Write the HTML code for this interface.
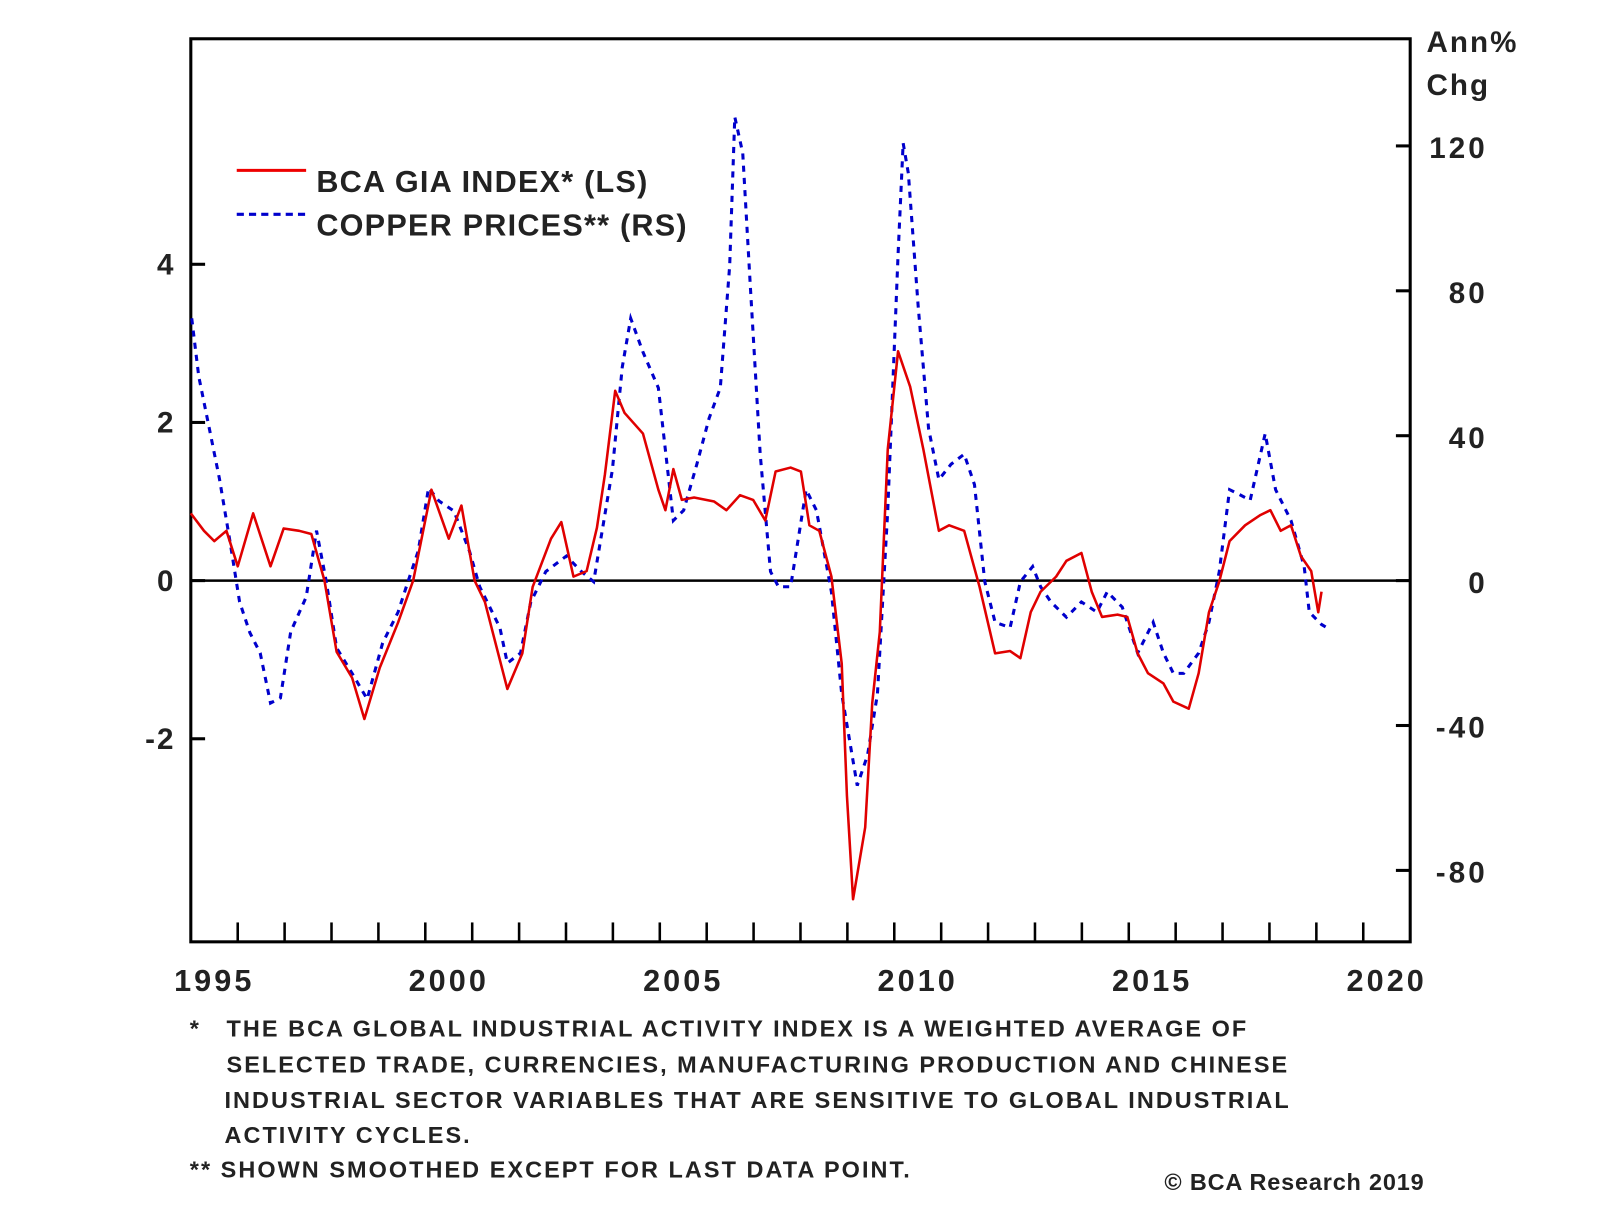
<!DOCTYPE html>
<html><head><meta charset="utf-8"><style>
html,body{margin:0;padding:0;background:#fff;}
svg text{font-family:"Liberation Sans",Arial,sans-serif;font-weight:bold;}
</style></head><body>
<svg id="chart" width="1600" height="1214" viewBox="0 0 1600 1214" xmlns="http://www.w3.org/2000/svg">
<rect x="0" y="0" width="1600" height="1214" fill="#fff"/>
<g transform="scale(1.0204)">
<g id="axes"></g>
<g id="series"></g>
<g>
  <line x1="232" y1="167" x2="300" y2="167" stroke="#e00" stroke-width="3"/>
  <text x="310" y="188" font-size="30" letter-spacing="1.2" fill="#222">BCA GIA INDEX* (LS)</text>
  <line x1="232" y1="210" x2="300" y2="210" stroke="#00c" stroke-width="3" stroke-dasharray="7,5"/>
  <text x="310" y="231" font-size="30" letter-spacing="1.2" fill="#222">COPPER PRICES** (RS)</text>
</g>
<text x="1398" y="51" font-size="29" letter-spacing="2" fill="#222">Ann%</text>
<text x="1398" y="93" font-size="29" letter-spacing="2" fill="#222">Chg</text>
<g font-size="23" letter-spacing="2" fill="#222">
  <text x="186" y="1016">*</text>
  <text x="222" y="1016">THE BCA GLOBAL INDUSTRIAL ACTIVITY INDEX IS A WEIGHTED AVERAGE OF</text>
  <text x="222" y="1051">SELECTED TRADE, CURRENCIES, MANUFACTURING PRODUCTION AND CHINESE</text>
  <text x="220" y="1086">INDUSTRIAL SECTOR VARIABLES THAT ARE SENSITIVE TO GLOBAL INDUSTRIAL</text>
  <text x="220" y="1120">ACTIVITY CYCLES.</text>
  <text x="186" y="1154">** SHOWN SMOOTHED EXCEPT FOR LAST DATA POINT.</text>
</g>
<text x="1396" y="1166" font-size="23" letter-spacing="0.8" fill="#222" text-anchor="end">© BCA Research 2019</text>
</g>
</svg>
<script>
const giaYears=[1995.00,1995.28,1995.50,1995.76,1996.00,1996.33,1996.70,1996.98,1997.31,1997.57,1997.85,1998.11,1998.44,1998.70,1999.03,1999.42,1999.74,2000.13,2000.50,2000.77,2001.05,2001.27,2001.75,2002.07,2002.29,2002.68,2002.90,2003.16,2003.44,2003.66,2003.83,2004.05,2004.25,2004.64,2004.97,2005.12,2005.29,2005.47,2005.73,2006.16,2006.42,2006.71,2006.99,2007.25,2007.47,2007.79,2008.01,2008.19,2008.40,2008.66,2008.88,2008.99,2009.12,2009.38,2009.53,2009.69,2009.86,2010.08,2010.34,2010.62,2010.95,2011.17,2011.49,2011.82,2012.15,2012.47,2012.69,2012.91,2013.12,2013.45,2013.67,2013.99,2014.21,2014.43,2014.76,2014.97,2015.19,2015.41,2015.74,2015.95,2016.28,2016.49,2016.71,2016.93,2017.15,2017.48,2017.81,2018.02,2018.24,2018.46,2018.67,2018.89,2019.04,2019.11];
const giaValues=[0.85,0.63,0.50,0.63,0.18,0.85,0.18,0.66,0.63,0.59,0.00,-0.90,-1.23,-1.75,-1.10,-0.53,0.00,1.15,0.53,0.95,0.00,-0.27,-1.37,-0.92,-0.08,0.53,0.74,0.05,0.12,0.67,1.34,2.40,2.12,1.86,1.15,0.89,1.41,1.02,1.05,1.00,0.89,1.08,1.02,0.76,1.38,1.43,1.38,0.70,0.63,0.05,-1.05,-2.72,-4.03,-3.12,-1.55,-0.65,1.66,2.90,2.45,1.66,0.63,0.70,0.63,-0.08,-0.92,-0.89,-0.98,-0.40,-0.14,0.05,0.25,0.35,-0.14,-0.46,-0.43,-0.46,-0.92,-1.17,-1.30,-1.53,-1.62,-1.17,-0.40,-0.01,0.50,0.70,0.83,0.89,0.63,0.70,0.31,0.12,-0.40,-0.14];
const copperYears=[1995.02,1995.17,1995.39,1995.61,1995.83,1996.04,1996.26,1996.48,1996.70,1996.91,1997.13,1997.46,1997.68,1997.89,1998.11,1998.44,1998.76,1999.09,1999.42,1999.63,1999.85,2000.07,2000.29,2000.61,2000.94,2001.16,2001.59,2001.75,2002.03,2002.25,2002.57,2003.01,2003.33,2003.59,2003.99,2004.20,2004.38,2004.64,2004.97,2005.29,2005.51,2005.79,2006.05,2006.29,2006.49,2006.60,2006.77,2006.93,2007.14,2007.36,2007.53,2007.79,2008.12,2008.34,2008.66,2008.88,2009.21,2009.43,2009.64,2009.86,2010.08,2010.19,2010.30,2010.51,2010.73,2010.95,2011.21,2011.49,2011.71,2011.93,2012.15,2012.47,2012.69,2012.95,2013.12,2013.34,2013.67,2013.99,2014.32,2014.54,2014.86,2015.19,2015.52,2015.74,2015.95,2016.17,2016.49,2016.71,2016.93,2017.15,2017.37,2017.59,2017.91,2018.13,2018.46,2018.74,2018.85,2019.11,2019.22];
const copperValues=[72.4,56.3,42.3,28.2,11.3,-5.9,-14.4,-20.0,-33.8,-32.4,-14.1,-4.5,13.8,-0.3,-18.6,-25.6,-32.7,-17.2,-8.7,-0.3,8.2,25.6,22.0,19.2,8.2,-1.7,-13.0,-22.8,-20.0,-5.9,2.5,6.8,2.5,-0.3,30.7,58.9,72.4,63.1,53.2,16.6,19.4,32.1,44.8,53.2,87.0,128.0,118.0,81.4,34.9,2.5,-1.7,-1.7,25.1,19.4,-3.1,-31.3,-56.6,-48.2,-31.3,19.4,89.9,120.8,112.4,75.8,42.0,27.9,32.1,34.9,26.5,-0.3,-11.5,-13.0,-0.3,3.9,-1.7,-5.9,-10.1,-5.9,-8.7,-3.1,-7.3,-20.0,-11.5,-20.0,-25.6,-25.6,-20.0,-11.5,2.5,25.1,23.7,22.2,40.6,25.1,16.6,3.9,-8.7,-12.1,-13.0];
const leftTicks=[4,2,0,-2];
const rightTicks=[120,80,40,0,-40,-80];
const xLabels=[1995,2000,2005,2010,2015,2020];

const L=187,R=1382,T=38,B=923,ZERO=569;
const xs=t=>L+(t-1995)*45.96;
const yl=v=>ZERO-v*77.5;
const yr=v=>ZERO-v*3.55;
const NS='http://www.w3.org/2000/svg';
const axes=document.getElementById('axes');
const series=document.getElementById('series');
function mk(tag,attrs,parent){const e=document.createElementNS(NS,tag);for(const k in attrs)e.setAttribute(k,attrs[k]);parent.appendChild(e);return e;}

const frame=mk('rect',{x:L,y:T,width:R-L,height:B-T,fill:'none',stroke:'#000','stroke-width':3},axes);


const zl=mk('line',{x1:L,x2:R,y1:ZERO,y2:ZERO,stroke:'#000','stroke-width':2.5},axes);



leftTicks.forEach(v=>{
  const y=yl(v);
  const tk=mk('line',{x1:L,x2:L+14,y1:y,y2:y,stroke:'#000','stroke-width':3},axes);
  
  
  const tx=mk('text',{x:172,y:y+10,'font-size':29,'letter-spacing':2,fill:'#222','text-anchor':'end'},axes);
  tx.textContent=String(v);
  
  
});
rightTicks.forEach(v=>{
  const y=yr(v);
  const tk=mk('line',{x1:R-14,x2:R,y1:y,y2:y,stroke:'#000','stroke-width':3},axes);
  
  
  const tx=mk('text',{x:1458,y:y+12,'font-size':29,'letter-spacing':3,fill:'#222','text-anchor':'end'},axes);
  tx.textContent=String(v);
  
  
});
for(let yv=1996;yv<=2020;yv++){
  const x=xs(yv);
  const tk=mk('line',{x1:x,x2:x,y1:B-19,y2:B,stroke:'#000','stroke-width':2.5},axes);
  
  
}
xLabels.forEach(yv=>{
  const tx=mk('text',{x:xs(yv+0.5),y:971,'font-size':30,'letter-spacing':3,fill:'#222','text-anchor':'middle'},axes);
  tx.textContent=String(yv);
  
  
});

const cp=copperYears.map((t,i)=>xs(t).toFixed(1)+','+yr(copperValues[i]).toFixed(1)).join(' ');
const cl=mk('polyline',{points:cp,fill:'none',stroke:'#0000cc','stroke-width':3,'stroke-dasharray':'6,6'},series);


const gp=giaYears.map((t,i)=>xs(t).toFixed(1)+','+yl(giaValues[i]).toFixed(1)).join(' ');
const gl=mk('polyline',{points:gp,fill:'none',stroke:'#e00000','stroke-width':2.5,'stroke-linejoin':'round'},series);


</script>
</body></html>
